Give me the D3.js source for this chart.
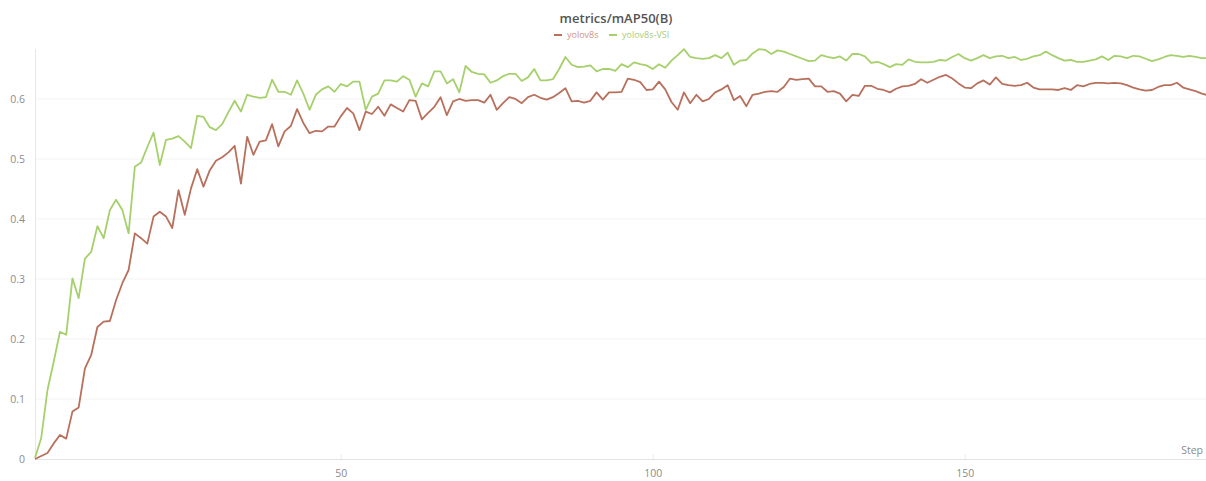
<!DOCTYPE html>
<html>
<head>
<meta charset="utf-8">
<script src="https://cdn.jsdelivr.net/npm/d3@7/dist/d3.min.js"></script>
<style>
  html, body { margin: 0; padding: 0; background: #ffffff; }
  svg { display: block; overflow: hidden; }
  text { font-family: "Open Sans", "Noto Sans", sans-serif; }
</style>
</head>
<body>
<svg id="chart" width="1206" height="481"></svg>
<script>
// metrics/mAP50(B) per training step, two runs
const chartTitle = "metrics/mAP50(B)";
const seriesNames = ["yolov8s", "yolov8s-VSI"];
const firstStep = 1;

const yolov8s = [
  0.000, 0.005, 0.010, 0.026, 0.040, 0.034, 0.079, 0.086, 0.151, 0.173,
  0.220, 0.229, 0.230, 0.265, 0.293, 0.315, 0.376, 0.368, 0.359, 0.404,
  0.412, 0.404, 0.385, 0.448, 0.407, 0.451, 0.483, 0.454, 0.481, 0.497,
  0.503, 0.511, 0.522, 0.459, 0.537, 0.507, 0.529, 0.531, 0.558, 0.521,
  0.546, 0.555, 0.583, 0.560, 0.543, 0.547, 0.546, 0.554, 0.554, 0.571,
  0.585, 0.576, 0.548, 0.579, 0.575, 0.587, 0.572, 0.591, 0.585, 0.579,
  0.598, 0.597, 0.566, 0.577, 0.587, 0.603, 0.573, 0.596, 0.600, 0.597,
  0.598, 0.598, 0.594, 0.607, 0.582, 0.593, 0.603, 0.600, 0.593, 0.603,
  0.607, 0.602, 0.599, 0.603, 0.610, 0.618, 0.596, 0.597, 0.594, 0.597,
  0.611, 0.599, 0.611, 0.611, 0.612, 0.634, 0.632, 0.628, 0.615, 0.616,
  0.629, 0.616, 0.595, 0.582, 0.611, 0.593, 0.607, 0.596, 0.600, 0.611,
  0.616, 0.623, 0.598, 0.605, 0.588, 0.607, 0.609, 0.612, 0.613, 0.612,
  0.620, 0.634, 0.632, 0.633, 0.634, 0.621, 0.621, 0.612, 0.613, 0.609,
  0.596, 0.607, 0.605, 0.622, 0.622, 0.617, 0.615, 0.611, 0.617, 0.621,
  0.622, 0.625, 0.633, 0.627, 0.632, 0.637, 0.640, 0.634, 0.626, 0.619,
  0.618, 0.626, 0.631, 0.624, 0.636, 0.625, 0.623, 0.622, 0.623, 0.627,
  0.619, 0.616, 0.616, 0.616, 0.615, 0.618, 0.615, 0.623, 0.621, 0.625,
  0.627, 0.627, 0.626, 0.627, 0.626, 0.623, 0.619, 0.616, 0.614, 0.615,
  0.620, 0.623, 0.623, 0.627, 0.619, 0.616, 0.613, 0.609, 0.606
];

const yolov8sVSI = [
  0.002, 0.035, 0.115, 0.162, 0.212, 0.207, 0.301, 0.268, 0.334, 0.345,
  0.388, 0.368, 0.415, 0.432, 0.415, 0.376, 0.487, 0.494, 0.520, 0.544,
  0.490, 0.532, 0.534, 0.538, 0.529, 0.518, 0.572, 0.570, 0.553, 0.548,
  0.558, 0.578, 0.597, 0.579, 0.607, 0.604, 0.602, 0.603, 0.632, 0.612,
  0.612, 0.607, 0.631, 0.609, 0.582, 0.607, 0.616, 0.621, 0.612, 0.625,
  0.621, 0.629, 0.629, 0.582, 0.604, 0.609, 0.631, 0.631, 0.629, 0.638,
  0.632, 0.604, 0.626, 0.621, 0.646, 0.646, 0.626, 0.633, 0.611, 0.655,
  0.645, 0.642, 0.641, 0.627, 0.631, 0.638, 0.642, 0.642, 0.630, 0.636,
  0.650, 0.631, 0.631, 0.633, 0.650, 0.670, 0.657, 0.653, 0.654, 0.656,
  0.646, 0.650, 0.650, 0.647, 0.658, 0.653, 0.661, 0.658, 0.656, 0.650,
  0.658, 0.652, 0.664, 0.673, 0.683, 0.670, 0.668, 0.667, 0.668, 0.673,
  0.668, 0.677, 0.657, 0.664, 0.665, 0.676, 0.683, 0.682, 0.675, 0.681,
  0.679, 0.675, 0.671, 0.667, 0.663, 0.664, 0.673, 0.670, 0.668, 0.671,
  0.664, 0.675, 0.675, 0.671, 0.660, 0.662, 0.658, 0.653, 0.658, 0.657,
  0.666, 0.662, 0.661, 0.661, 0.662, 0.665, 0.664, 0.670, 0.675, 0.668,
  0.664, 0.668, 0.673, 0.668, 0.671, 0.672, 0.668, 0.670, 0.665, 0.667,
  0.671, 0.673, 0.679, 0.673, 0.668, 0.664, 0.665, 0.662, 0.662, 0.664,
  0.666, 0.671, 0.665, 0.672, 0.671, 0.668, 0.672, 0.671, 0.667, 0.663,
  0.666, 0.670, 0.673, 0.672, 0.670, 0.672, 0.670, 0.668, 0.668
];

const yTicks = [0, 0.1, 0.2, 0.3, 0.4, 0.5, 0.6];
const yTickLabels = ["0", "0.1", "0.2", "0.3", "0.4", "0.5", "0.6"];
const xTicks = [50, 100, 150];
const xLabel = "Step";

const seriesColors = ["#b8705c", "#a6d06c"];
const legendTextColors = ["#d39382", "#a9cd7c"];

const svg = d3.select("#chart");
const W = 1206;
const plotLeft = 35, plotBottom = 459, plotTop = 49;

const x = d3.scaleLinear().domain([1, 200]).range([plotLeft, plotLeft + 199 * 6.24]);
const y = d3.scaleLinear().domain([0, 0.6833]).range([plotBottom, plotTop]);

// horizontal grid
svg.append("g")
  .selectAll("line")
  .data(yTicks.slice(1))
  .join("line")
  .attr("x1", plotLeft).attr("x2", W)
  .attr("y1", d => y(d)).attr("y2", d => y(d))
  .attr("stroke", "#f3f3f3").attr("stroke-width", 1);

// y axis labels
const yAxis = d3.axisLeft(y).tickValues(yTicks)
  .tickFormat((d, i) => yTickLabels[i]).tickSize(0).tickPadding(10);
const gy = svg.append("g").attr("transform", `translate(${plotLeft},0)`).call(yAxis);
gy.select(".domain").remove();
gy.selectAll("text").attr("fill", "#8c8c8c").style("font-size", "10.5px")
  .style("font-family", "'Open Sans', sans-serif");

// y axis line
svg.append("line")
  .attr("x1", plotLeft + 0.5).attr("x2", plotLeft + 0.5)
  .attr("y1", plotTop).attr("y2", plotBottom)
  .attr("stroke", "#e8e8e8");

// x axis
const xAxis = d3.axisBottom(x).tickValues(xTicks).tickSize(5).tickPadding(6);
const gx = svg.append("g").attr("transform", `translate(0,${plotBottom})`).call(xAxis);
gx.select(".domain").remove();
gx.selectAll(".tick line").attr("stroke", "#eaeaea").attr("y1", -5).attr("y2", 0);
gx.selectAll("text").attr("fill", "#8c8c8c").style("font-size", "10.5px")
  .style("font-family", "'Open Sans', sans-serif");

svg.append("line")
  .attr("x1", plotLeft).attr("x2", W)
  .attr("y1", plotBottom + 0.5).attr("y2", plotBottom + 0.5)
  .attr("stroke", "#e3e3e3");

svg.append("text")
  .attr("x", W - 3).attr("y", 454)
  .attr("text-anchor", "end")
  .attr("fill", "#8c8c8c").style("font-size", "10.5px")
  .text(xLabel);

// series lines
const line = d3.line()
  .x((d, i) => x(firstStep + i))
  .y(d => y(d));

[yolov8s, yolov8sVSI].forEach((values, k) => {
  svg.append("path")
    .datum(values)
    .attr("d", line)
    .attr("fill", "none")
    .attr("stroke", seriesColors[k])
    .attr("stroke-width", 1.8)
    .attr("stroke-linejoin", "round");
});

// title
svg.append("text")
  .attr("x", 616).attr("y", 23)
  .attr("text-anchor", "middle")
  .attr("fill", "#555")
  .style("font-size", "13px").style("font-weight", "600")
  .text(chartTitle);

// legend
const legendItems = [
  { x: 554, name: seriesNames[0] },
  { x: 609, name: seriesNames[1] }
];
legendItems.forEach((it, k) => {
  svg.append("line")
    .attr("x1", it.x).attr("x2", it.x + 8)
    .attr("y1", 35).attr("y2", 35)
    .attr("stroke", seriesColors[k]).attr("stroke-width", 2);
  svg.append("text")
    .attr("x", it.x + 13).attr("y", 38)
    .attr("fill", legendTextColors[k])
    .style("font-size", "9px")
    .text(it.name);
});
</script>
</body>
</html>
